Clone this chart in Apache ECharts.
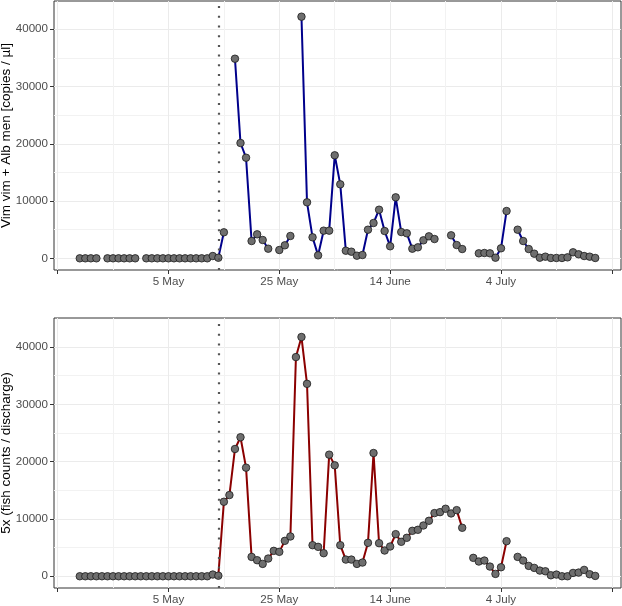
<!DOCTYPE html>
<html>
<head>
<meta charset="utf-8">
<script src="https://cdn.jsdelivr.net/npm/echarts@6/dist/echarts.min.js"></script>
<style>html,body{margin:0;padding:0;background:#fff}#c{width:622px;height:606px}</style>
</head>
<body>
<div id="c"></div>
<script>
// Sampling dates (daily, month-day)
const dates = ['04-19','04-20','04-21','04-22','04-23','04-24','04-25','04-26','04-27','04-28','04-29','04-30',
 '05-01','05-02','05-03','05-04','05-05','05-06','05-07','05-08','05-09','05-10','05-11','05-12','05-13','05-14','05-15','05-16','05-17','05-18','05-19','05-20','05-21','05-22','05-23','05-24','05-25','05-26','05-27','05-28','05-29','05-30','05-31',
 '06-01','06-02','06-03','06-04','06-05','06-06','06-07','06-08','06-09','06-10','06-11','06-12','06-13','06-14','06-15','06-16','06-17','06-18','06-19','06-20','06-21','06-22','06-23','06-24','06-25','06-26','06-27','06-28','06-29','06-30',
 '07-01','07-02','07-03','07-04','07-05','07-06','07-07','07-08','07-09','07-10','07-11','07-12','07-13','07-14','07-15','07-16','07-17','07-18','07-19','07-20','07-21'];

// Top panel: eDNA copies / µl (null = no sample)
const edna = [0,0,0,0,null,0,0,0,0,0,0,null,
 0,0,0,0,0,0,0,0,0,0,0,0,400,100,4540,null,34860,20140,17570,3020,4190,3200,1680,null,1450,2270,3900,null,42200,9780,3670,
 520,4830,4830,17990,12920,1330,1160,460,580,5000,6170,8490,4770,2100,10650,4590,4370,1680,1920,3140,3840,3370,null,null,4020,2320,1620,null,
 null,870,930,870,110,1750,8260,null,5000,3020,1620,810,110,290,60,60,60,170,1050,700,400,290,60];

// Bottom panel: 5x (fish counts / discharge)
const fish = [0,0,0,0,0,0,0,0,0,0,0,0,
 0,0,0,0,0,0,0,0,0,0,0,0,300,100,13000,14170,22210,24260,18950,3380,2800,2160,3090,4430,4260,6180,6940,38250,41750,33580,5420,
 5130,4020,21220,19360,5420,2910,2910,2160,2390,5830,21510,5770,4490,5190,7350,6010,6710,7930,8110,8860,9680,11020,11190,11780,10960,11540,8460,null,
 3210,2570,2740,1690,410,1570,6120,null,3380,2740,1810,1460,990,870,170,290,0,0,580,640,1110,350,60];

const tickDates = ['04-15','05-05','05-25','06-14','07-04','07-24'];
const tickLabels = ['', '5 May', '25 May', '14 June', '4 July', ''];
const minorDates = ['04-25','05-15','06-04','06-24','07-14'];
const yTicks = [0,10000,20000,30000,40000];
const yMinor = [5000,15000,25000,35000];
const eventDate = '05-14';

function dayNum(s){const [m,d]=s.split('-').map(Number);return (Date.UTC(2020,m-1,d)-Date.UTC(2020,3,19))/86400000;}
const tickDays = tickDates.map(dayNum);
const labelMap = {}; tickDays.forEach((v,i)=>labelMap[v]=tickLabels[i]);
const labelDays = tickDays.filter((v,i)=>tickLabels[i]!=='');
const minorDays = minorDates.map(dayNum);
const xMin = -4.65, xMax = 97.65;

const FONT = 'Liberation Sans, Arial, sans-serif';
const grids = [
  {left:54, top:1, width:567, height:269, yMin:-2040, yMax:44940},
  {left:54, top:318, width:567, height:270, yMin:-2050, yMax:45070}
];

const xAxis=[], yAxis=[], series=[];
grids.forEach((g,gi)=>{
  xAxis.push({type:'value', gridIndex:gi, min:xMin, max:xMax, position:'bottom',
    axisLine:{show:false, onZero:false},
    axisTick:{show:true, length:4, customValues:tickDays, lineStyle:{color:'#333',width:1}},
    axisLabel:{customValues:labelDays, formatter:v=>labelMap[v]||'', color:'#4d4d4d', fontSize:11.6, fontFamily:FONT, margin:6},
    splitLine:{show:true, lineStyle:{color:'#ebebeb', width:1}}});
  xAxis.push({type:'value', gridIndex:gi, min:xMin, max:xMax, show:true, position:'bottom',
    axisLine:{show:false, onZero:false}, axisTick:{show:false, customValues:minorDays}, axisLabel:{show:false, customValues:minorDays},
    splitLine:{show:true, lineStyle:{color:'#f2f2f2', width:1}}});
  yAxis.push({type:'value', gridIndex:gi, min:g.yMin, max:g.yMax, position:'left',
    name: gi===0 ? 'Vim vim + Alb men [copies / µl]' : '5x (fish counts / discharge)',
    nameLocation:'middle', nameGap:41, nameMoveOverlap:false,
    nameTextStyle:{color:'#000', fontSize:13.5, fontFamily:FONT},
    axisLine:{show:false, onZero:false},
    axisTick:{show:true, length:4, customValues:yTicks, lineStyle:{color:'#333',width:1}},
    axisLabel:{customValues:yTicks, formatter:v=>String(v), color:'#4d4d4d', fontSize:11.6, fontFamily:FONT, margin:6},
    splitLine:{show:true, lineStyle:{color:'#ebebeb', width:1}}});
  yAxis.push({type:'value', gridIndex:gi, min:g.yMin, max:g.yMax, show:true, position:'left',
    axisLine:{show:false, onZero:false}, axisTick:{show:false, customValues:yMinor}, axisLabel:{show:false, customValues:yMinor},
    splitLine:{show:true, lineStyle:{color:'#f2f2f2', width:1}}});
});

function mkData(vals){return dates.map((s,i)=>[dayNum(s), vals[i]===null?'-':vals[i]]);}
[[edna,'#00008b'],[fish,'#8b0000']].forEach(([vals,col],gi)=>{
  series.push({type:'line', xAxisIndex:gi*2, yAxisIndex:gi*2, data:mkData(vals),
    connectNulls:false, showAllSymbol:true, symbol:'circle', symbolSize:7.5,
    lineStyle:{color:col, width:2}, itemStyle:{color:'#6e6e6e', borderColor:'#1a1a1a', borderWidth:0.8},
    emphasis:{disabled:true}, animation:false, z:3,
    markLine:{silent:true, symbol:'none', label:{show:false}, animation:false,
      lineStyle:{color:'#555', type:[2,7.7], width:2.2}, data:[{xAxis:dayNum(eventDate)}]}});
});

const chart = echarts.init(document.getElementById('c'), null, {renderer:'canvas'});
chart.setOption({
  animation:false,
  grid: grids.map(g=>({left:g.left, top:g.top, width:g.width, height:g.height, show:true, borderColor:'#333', borderWidth:1, backgroundColor:'transparent', outerBoundsMode:'none'})),
  xAxis, yAxis, series
});
</script>
</body>
</html>
